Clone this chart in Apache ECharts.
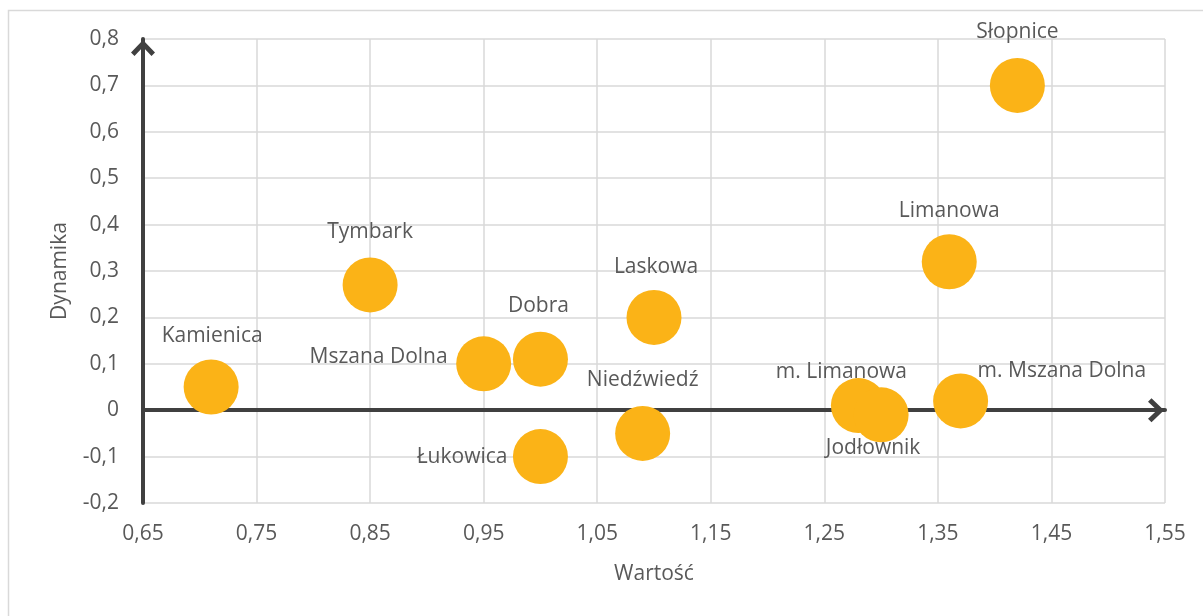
<!DOCTYPE html>
<html lang="pl">
<head>
    <meta charset="UTF-8">
    <title>Wartość / Dynamika</title>
    <style>
        body,html{
            margin: 0;
            height: 100%;
            width: 100%;
            background: #fff;
        }
    </style>
</head>
<body>
<div id="main" style="width:1203px; height:616px;"></div>
<script src="https://cdn.jsdelivr.net/npm/echarts@6/dist/echarts.min.js"></script>
<script>
    // gminy: wartość (x), dynamika (y)
    var names = ['Kamienica', 'Tymbark', 'Mszana Dolna', 'Dobra', 'Łukowica', 'Laskowa',
        'Niedźwiedź', 'm. Limanowa', 'Jodłownik', 'm. Mszana Dolna', 'Limanowa', 'Słopnice'];
    var wartosc = [0.71, 0.85, 0.95, 1.00, 1.00, 1.10, 1.09, 1.28, 1.30, 1.37, 1.36, 1.42];
    var dynamika = [0.05, 0.27, 0.10, 0.11, -0.10, 0.20, -0.05, 0.01, -0.01, 0.02, 0.32, 0.70];

    // where each label sits relative to its bubble
    var labelPos = {
        'Kamienica': {offset: [1, -51]},
        'Tymbark': {offset: [0, -53]},
        'Mszana Dolna': {offset: [-36, -7], align: 'right'},
        'Dobra': {offset: [-2, -53]},
        'Łukowica': {offset: [-33, 0], align: 'right'},
        'Laskowa': {offset: [2, -50]},
        'Niedźwiedź': {offset: [0, -53]},
        'm. Limanowa': {offset: [-17, -34]},
        'Jodłownik': {offset: [-8, 33]},
        'm. Mszana Dolna': {offset: [17, -30], align: 'left'},
        'Limanowa': {offset: [0, -51]},
        'Słopnice': {offset: [0, -53]}
    };

    var txt = '#595959';
    var font = 'Open Sans';
    var fs = 21;
    // open chevron like the excel arrow head (points up, echarts rotates it)
    var chevron = 'path://M12,0 L24,12.5 L20.5,16 L12,7 L3.5,16 L0,12.5 Z';
    function comma(v) {
        return String(+v.toFixed(2)).replace('.', ',');
    }

    var chart = echarts.init(document.getElementById('main'));
    chart.setOption({
        animation: false,
        textStyle: {fontFamily: font},
        graphic: [{
            type: 'rect',
            shape: {x: 8.5, y: 10.5, width: 1300, height: 700},
            style: {fill: 'none', stroke: '#d9d9d9', lineWidth: 1.5},
            silent: true
        }],
        grid: {left: 143, right: 38, top: 39, bottom: 113},
        xAxis: [{
            type: 'value',
            min: 0.65, max: 1.55, interval: 0.1,
            position: 'bottom',
            axisLine: {
                show: true, onZero: true,
                symbol: ['none', chevron], symbolSize: [24, 18], symbolOffset: [0, -9],
                lineStyle: {color: '#404040', width: 4}
            },
            axisTick: {show: false},
            axisLabel: {show: false},
            splitLine: {show: true, lineStyle: {color: '#d9d9d9', width: 1.5}}
        }, {
            type: 'value',
            min: 0.65, max: 1.55, interval: 0.1,
            position: 'bottom',
            name: 'Wartość',
            nameLocation: 'middle',
            nameGap: 61,
            nameTextStyle: {color: txt, fontSize: fs, fontFamily: font},
            axisLine: {show: false, onZero: false},
            axisTick: {show: false},
            axisLabel: {color: txt, fontSize: fs, margin: 21, formatter: comma},
            splitLine: {show: false}
        }],
        yAxis: {
            type: 'value',
            min: -0.2, max: 0.8, interval: 0.1,
            name: 'Dynamika',
            nameLocation: 'middle',
            nameGap: 72,
            nameTextStyle: {color: txt, fontSize: fs, fontFamily: font},
            axisLine: {
                show: true, onZero: false,
                symbol: ['none', chevron], symbolSize: [24, 18], symbolOffset: [0, -9],
                lineStyle: {color: '#404040', width: 4}
            },
            axisTick: {show: false},
            axisLabel: {color: txt, fontSize: fs, margin: 24, formatter: comma},
            splitLine: {show: true, lineStyle: {color: '#d9d9d9', width: 1.5}}
        },
        series: [{
            type: 'scatter',
            xAxisIndex: 0,
            symbolSize: 55,
            itemStyle: {color: '#FBB317', opacity: 1},
            data: names.map(function (n, i) {
                var p = labelPos[n];
                return {
                    name: n,
                    value: [wartosc[i], dynamika[i]],
                    label: {
                        show: true,
                        position: 'inside',
                        formatter: '{b}',
                        offset: p.offset,
                        align: p.align || 'center',
                        verticalAlign: 'middle',
                        color: txt,
                        fontSize: fs,
                        fontFamily: font
                    }
                };
            })
        }]
    });
</script>
</body>
</html>
